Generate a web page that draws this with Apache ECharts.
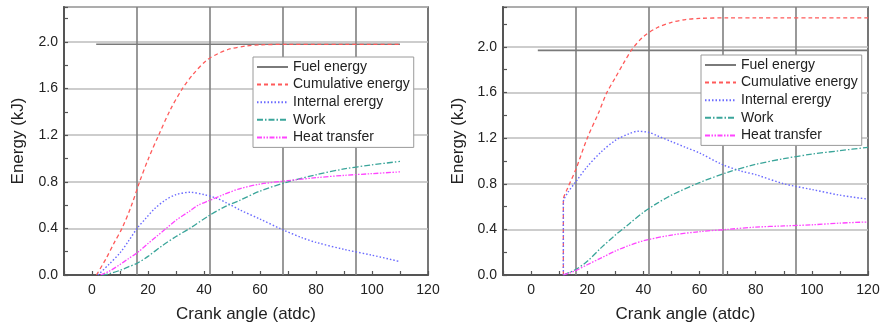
<!DOCTYPE html>
<html>
<head>
<meta charset="utf-8">
<script src="https://cdn.jsdelivr.net/npm/echarts@6/dist/echarts.min.js"></script>
<style>html,body{margin:0;padding:0;background:#fff;}#c{width:885px;height:333px;}</style>
</head>
<body>
<div id="c"></div>
<script>
// ---------- data ----------
const seriesNames = ['Fuel energy', 'Cumulative energy', 'Internal erergy', 'Work', 'Heat transfer'];
const xTickLabels = [0, 20, 40, 60, 80, 100, 120];
const yTickLabels = [0.0, 0.4, 0.8, 1.2, 1.6, 2.0];
const guideX = [16.0, 42.0, 68.1, 94.1];

// Left panel
const fuelLx = [1.5, 110];
const fuelLy = [1.98, 1.98];
const cumLx = [1.6, 5, 8, 10.7, 14, 17, 20, 23.8, 28, 32.3, 36, 40.8, 45, 49.2, 55, 60, 70, 80, 90, 100, 110];
const cumLy = [0, 0.14, 0.28, 0.4, 0.59, 0.8, 0.99, 1.2, 1.42, 1.6, 1.72, 1.84, 1.9, 1.94, 1.965, 1.975, 1.98, 1.98, 1.98, 1.98, 1.98];
const intLx = [2.1, 6, 10, 13, 16.1, 19, 22.4, 26, 30, 35, 40, 44.4, 48, 52.7, 60, 68, 75, 80, 90, 100, 110];
const intLy = [0, 0.09, 0.19, 0.29, 0.4, 0.48, 0.57, 0.64, 0.69, 0.71, 0.69, 0.66, 0.62, 0.56, 0.48, 0.39, 0.32, 0.28, 0.22, 0.17, 0.115];
const workLx = [3.5, 6, 10, 13, 16.1, 20, 25, 30, 34.9, 41.8, 47, 52.7, 60, 70, 80, 90, 100, 110];
const workLy = [0, 0.01, 0.04, 0.07, 0.1, 0.16, 0.25, 0.33, 0.4, 0.51, 0.58, 0.64, 0.72, 0.8, 0.86, 0.91, 0.945, 0.975];
const heatLx = [3, 6, 10, 13, 16.1, 20, 23, 26, 30, 35, 38, 42, 47, 52.7, 60, 70, 80, 90, 100, 110];
const heatLy = [0, 0.03, 0.09, 0.14, 0.19, 0.27, 0.33, 0.39, 0.47, 0.55, 0.6, 0.64, 0.69, 0.74, 0.78, 0.81, 0.835, 0.855, 0.87, 0.885];

// Right panel
const fuelRx = [2.4, 120];
const fuelRy = [1.97, 1.97];
const cumRx = [11.5, 11.5, 13, 16, 20, 24, 27, 30, 33, 36, 40, 45, 50, 55, 60, 70, 80, 90, 100, 110, 120];
const cumRy = [0, 0.66, 0.76, 0.93, 1.2, 1.42, 1.6, 1.73, 1.86, 1.98, 2.09, 2.17, 2.215, 2.24, 2.25, 2.255, 2.255, 2.255, 2.255, 2.255, 2.255];
const intRx = [11.5, 11.5, 13, 16, 20, 25, 30, 35, 38, 42, 45, 50, 55, 60, 68, 75, 80, 90, 100, 110, 120];
const intRy = [0, 0.64, 0.72, 0.82, 0.95, 1.08, 1.18, 1.24, 1.26, 1.25, 1.22, 1.17, 1.12, 1.07, 0.97, 0.91, 0.88, 0.8, 0.75, 0.7, 0.665];
const workRx = [11.5, 16, 20, 25, 30, 35, 40, 45, 50, 60, 70, 80, 90, 100, 110, 120];
const workRy = [0, 0.05, 0.12, 0.24, 0.35, 0.45, 0.55, 0.63, 0.7, 0.81, 0.9, 0.97, 1.02, 1.06, 1.09, 1.12];
const heatRx = [11.5, 16, 20, 25, 30, 35, 40, 50, 60, 70, 80, 90, 100, 110, 120];
const heatRy = [0, 0.04, 0.09, 0.15, 0.21, 0.26, 0.3, 0.35, 0.38, 0.4, 0.42, 0.43, 0.44, 0.455, 0.465];

// ---------- build ----------
const zip = (xs, ys) => xs.map((x, i) => [x, ys[i]]);
const FONT = "'Liberation Sans', Arial, sans-serif";
const styles = [
  { color: '#7a7a7a', type: 'solid', width: 1.6 },
  { color: '#ff5a5a', type: [4, 3], width: 1.3 },
  { color: '#6a6aff', type: [1.5, 2], width: 1.4 },
  { color: '#3aa59a', type: [6, 2, 1.5, 2], width: 1.3 },
  { color: '#ff44ff', type: [5, 1.5, 1.5, 1.5, 1.5, 1.5], width: 1.3 }
];

function makeSeries(idx, datasets) {
  return datasets.map((d, i) => {
    const s = {
      name: seriesNames[i],
      type: 'line',
      xAxisIndex: idx,
      yAxisIndex: idx,
      data: zip(d[0], d[1]),
      symbol: 'none',
      smooth: i === 0 ? false : 0.3,
      color: styles[i].color,
      lineStyle: { color: styles[i].color, type: styles[i].type, width: styles[i].width },
      silent: true,
      z: 3
    };
    if (i === 0) {
      s.markLine = {
        silent: true,
        symbol: 'none',
        label: { show: false },
        lineStyle: { color: '#808080', width: 1.6, type: 'solid' },
        data: guideX.map(v => ({ xAxis: v })),
        z: 1
      };
    }
    return s;
  });
}

function xAxisCfg(idx) {
  return {
    type: 'value', gridIndex: idx, min: -10, max: 120, interval: 10,
    name: 'Crank angle (atdc)', nameLocation: 'middle', nameGap: 31,
    nameTextStyle: { fontSize: 17, color: '#222', fontFamily: FONT },
    axisLine: { onZero: false, lineStyle: { color: '#555', width: 2 } },
    axisTick: { inside: true, length: 4, lineStyle: { color: '#555', width: 1.2 } },
    axisLabel: {
      margin: 8, fontSize: 14, color: '#222', fontFamily: FONT,
      formatter: v => (xTickLabels.indexOf(v) >= 0 ? String(v) : '')
    },
    splitLine: { show: false }
  };
}

function yAxisCfg(idx, max, gap) {
  return {
    type: 'value', gridIndex: idx, min: 0, max: max, interval: 0.4,
    name: 'Energy (kJ)', nameLocation: 'middle', nameGap: gap, nameRotate: 90,
    nameTextStyle: { fontSize: 17, color: '#222', fontFamily: FONT },
    axisLine: { onZero: false, lineStyle: { color: '#555', width: 2 } },
    axisTick: { inside: true, length: 4, lineStyle: { color: '#555', width: 1.2 } },
    minorTick: { show: true, splitNumber: 2, length: 4, lineStyle: { color: '#555', width: 1.2 } },
    axisLabel: {
      margin: 6, fontSize: 14, color: '#222', fontFamily: FONT, showMaxLabel: false,
      formatter: v => {
        const m = yTickLabels.find(t => Math.abs(t - v) < 1e-6);
        return m === undefined ? '' : m.toFixed(1);
      }
    },
    splitLine: { show: true, lineStyle: { color: '#bdbdbd', width: 1.6 } }
  };
}

function legendCfg(left, top) {
  return {
    orient: 'vertical', left: left, top: top,
    data: seriesNames,
    backgroundColor: '#fff', borderColor: '#9a9a9a', borderWidth: 1,
    padding: [3, 4, 3, 3], itemWidth: 31, itemHeight: 14, itemGap: 3.6,
    itemStyle: { color: 'rgba(0,0,0,0)', borderColor: 'rgba(0,0,0,0)', borderWidth: 0, opacity: 0 },
    textStyle: { fontSize: 14, color: '#222', fontFamily: FONT, padding: [0, 0, 0, 0] },
    selectedMode: false
  };
}

const option = {
  backgroundColor: '#fff',
  animation: false,
  grid: [
    { left: 64, right: 457, top: 7, bottom: 58, show: true, borderColor: '#555', borderWidth: 1.6, backgroundColor: 'transparent' },
    { left: 503, right: 17, top: 7, bottom: 58, show: true, borderColor: '#555', borderWidth: 1.6, backgroundColor: 'transparent' }
  ],
  xAxis: [xAxisCfg(0), xAxisCfg(1)],
  yAxis: [yAxisCfg(0, 2.3, 37), yAxisCfg(1, 2.35, 36)],
  legend: [legendCfg(253, 57), legendCfg(701, 55)],
  series: [].concat(
    makeSeries(0, [[fuelLx, fuelLy], [cumLx, cumLy], [intLx, intLy], [workLx, workLy], [heatLx, heatLy]]),
    makeSeries(1, [[fuelRx, fuelRy], [cumRx, cumRy], [intRx, intRy], [workRx, workRy], [heatRx, heatRy]])
  )
};

const chart = echarts.init(document.getElementById('c'), null, { renderer: 'canvas' });
chart.setOption(option);
</script>
</body>
</html>
